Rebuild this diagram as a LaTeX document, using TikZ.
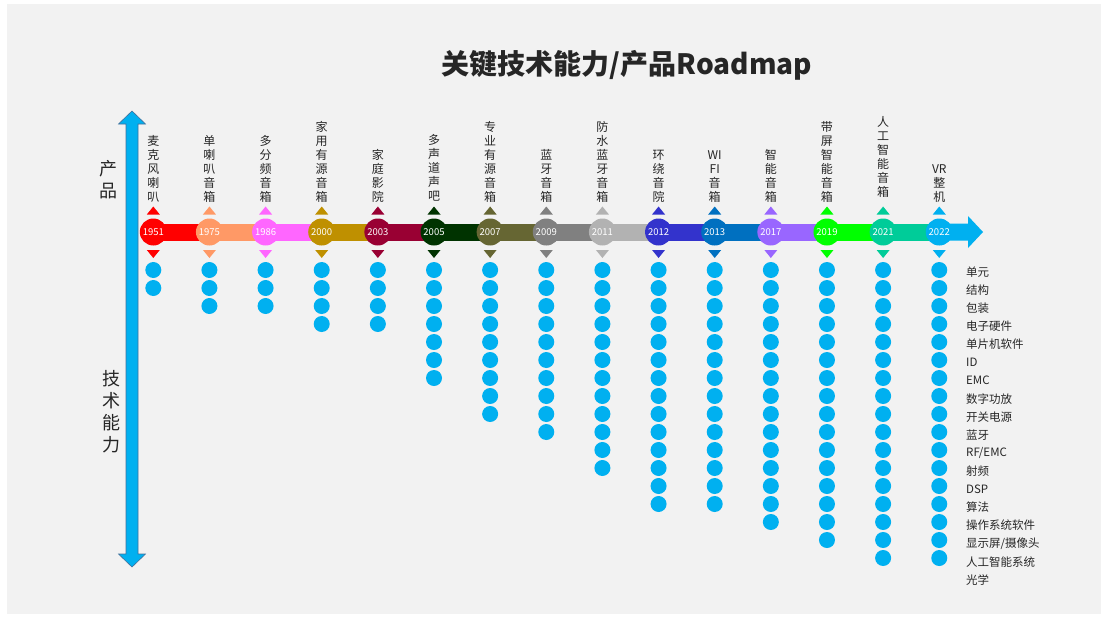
\documentclass[tikz,border=0pt]{standalone}
\usepackage{fontspec}
\setmainfont{Noto Sans CJK SC}
\usetikzlibrary{calc,positioning}
\definecolor{bg}{HTML}{F2F2F2}
\definecolor{axisblue}{HTML}{00B0F0}
\definecolor{axisline}{HTML}{41719C}
\definecolor{txtgray}{HTML}{262626}
\definecolor{yr1951}{HTML}{FF0000}
\definecolor{yr1975}{HTML}{FF9966}
\definecolor{yr1986}{HTML}{FF66FF}
\definecolor{yr2000}{HTML}{BF9000}
\definecolor{yr2003}{HTML}{990033}
\definecolor{yr2005}{HTML}{003300}
\definecolor{yr2007}{HTML}{666633}
\definecolor{yr2009}{HTML}{808080}
\definecolor{yr2011}{HTML}{B2B2B2}
\definecolor{yr2012}{HTML}{3333CC}
\definecolor{yr2013}{HTML}{0070C0}
\definecolor{yr2017}{HTML}{9966FF}
\definecolor{yr2019}{HTML}{00FF00}
\definecolor{yr2021}{HTML}{00CC99}
\definecolor{yr2022}{HTML}{00B0F0}

\begin{document}
\begin{tikzpicture}[x=1pt,y=-1pt]
		\tikzstyle{yearball}=[circle,minimum size=27pt,inner sep=0pt,text=white,font=\fontsize{9.5}{10}\selectfont]
		\tikzstyle{techdot}=[circle,fill=axisblue,minimum size=16pt,inner sep=0pt]
		\tikzstyle{prodlabel}=[anchor=south,align=center,inner sep=0pt,text=txtgray,font=\fontsize{12}{14}\selectfont]
		\tikzstyle{techlabel}=[anchor=west,inner sep=0pt,text=txtgray,font=\fontsize{11.5}{13}\selectfont]
		\tikzstyle{axislabel}=[align=center,inner sep=0pt,text=txtgray,font=\fontsize{18}{22}\selectfont]
		\useasboundingbox (0,0) rectangle (1108,619);
		\fill [white] (0,0) rectangle (1108,619);
		\fill [bg] (7,4) rectangle (1101,614);
		% title
		\node [font=\bfseries\fontsize{28}{30}\selectfont, text=txtgray] (title) at (627,65) {关键技术能力/产品Roadmap};
		% vertical axis
		\filldraw [fill=axisblue, draw=axisline, line width=0.6pt] (132,111) -- (145.5,124) -- (138,124) -- (138,554) -- (145.5,554) -- (132,567) -- (118.5,554) -- (126,554) -- (126,124) -- (118.5,124) -- cycle;
		\node [axislabel] (prodaxis) at (108,180) {产\\品};
		\node [axislabel] (techaxis) at (111,412) {技\\术\\能\\力};
		% time bar
		\foreach \col [count=\i from 0] in {yr1951,yr1975,yr1986,yr2000,yr2003,yr2005,yr2007,yr2009,yr2011,yr2012,yr2013,yr2017,yr2019,yr2021}
			\fill [\col] ({153.3+56.14*\i},223.5) rectangle ({153.3+56.14*(\i+1)},240.5);
		\fill [yr2022] (939.3,223.5) -- (968,223.5) -- (968,216) -- (983,232) -- (968,248) -- (968,240.5) -- (939.3,240.5) -- cycle;
		% years, products and technologies
		\foreach \yr/\ndots/\up/\txt [count=\i from 0] in {
			1951/2/0/{麦\\克\\风\\喇\\叭},
			1975/3/0/{单\\喇\\叭\\音\\箱},
			1986/3/0/{多\\分\\频\\音\\箱},
			2000/4/0/{家\\用\\有\\源\\音\\箱},
			2003/4/0/{家\\庭\\影\\院},
			2005/7/2/{多\\声\\道\\声\\吧},
			2007/9/0/{专\\业\\有\\源\\音\\箱},
			2009/10/0/{蓝\\牙\\音\\箱},
			2011/12/0/{防\\水\\蓝\\牙\\音\\箱},
			2012/14/0/{环\\绕\\音\\院},
			2013/14/0/{WI\\FI\\音\\箱},
			2017/15/0/{智\\能\\音\\箱},
			2019/16/0/{带\\屏\\智\\能\\音\\箱},
			2021/17/5/{人\\工\\智\\能\\音\\箱},
			2022/17/0/{VR\\整\\机}}{
			\node [yearball, fill=yr\yr] (y\yr) at ({153.3+56.14*\i},232) {\yr};
			\fill [yr\yr] ($(y\yr)+(-6.5,-17.5)$) -- ($(y\yr)+(6.5,-17.5)$) -- ($(y\yr)+(0,-25.5)$) -- cycle;
			\fill [yr\yr] ($(y\yr)+(-6.5,18)$) -- ($(y\yr)+(6.5,18)$) -- ($(y\yr)+(0,26)$) -- cycle;
			\node [prodlabel] (p\yr) at ($(y\yr)+(0,-29-\up)$) {\txt};
			\foreach \k in {1,...,\ndots}
				\node [techdot] (d\yr-\k) at ($(y\yr)+(0,20+18*\k)$) {};
		}
		% technology names
		\foreach \t [count=\k from 0] in {单元,结构,包装,电子硬件,单片机软件,ID,EMC,数字功放,开关电源,蓝牙,{RF/EMC},射频,DSP,算法,操作系统软件,{显示屏/摄像头},人工智能系统,光学}
			\node [techlabel] (t\k) at (966,{272+18.1*\k}) {\t};
	\end{tikzpicture}
\end{document}
